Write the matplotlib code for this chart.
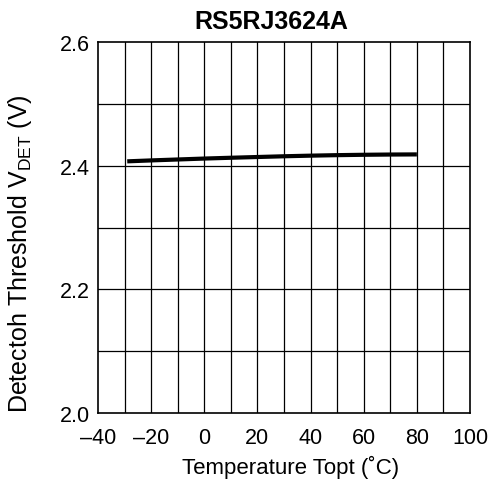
import matplotlib
matplotlib.use("Agg")
import matplotlib.pyplot as plt
import numpy as np

temps = [-29, -20, -10, 0, 10, 20, 30, 40, 50, 60, 70, 80]
vdet = [2.4070, 2.4085, 2.4100, 2.4115, 2.4128, 2.4140, 2.4152, 2.4162, 2.4170, 2.4176, 2.4180, 2.4182]
xticks = [-40, -20, 0, 20, 40, 60, 80, 100]
xtick_labels = ["\u201340", "\u201320", "0", "20", "40", "60", "80", "100"]
yticks = [2.0, 2.2, 2.4, 2.6]
ytick_labels = ["2.0", "2.2", "2.4", "2.6"]

plt.rcParams['font.family'] = ['Liberation Sans', 'DejaVu Sans']
plt.rcParams['mathtext.fontset'] = 'custom'
plt.rcParams['mathtext.rm'] = 'Liberation Sans'

W, H = 490, 485
fig = plt.figure(figsize=(W / 100, H / 100), dpi=100)
ax = fig.add_axes([98 / W, 71 / H, 372 / W, 371 / H])

ax.set_xlim(-40, 100)
ax.set_ylim(2.0, 2.6)
for x in np.arange(-30, 100, 10):
    ax.axvline(x, color='black', lw=0.9, zorder=1)
for y in np.arange(2.1, 2.59, 0.1):
    ax.axhline(y, color='black', lw=0.9, zorder=1)

ax.plot(temps, vdet, color='black', lw=3.0, zorder=3, solid_capstyle='butt')

ax.set_xticks(xticks)
ax.set_xticklabels(xtick_labels)
ax.set_yticks(yticks)
ax.set_yticklabels(ytick_labels)
ax.tick_params(length=0, labelsize=15.5)
ax.tick_params(axis='x', pad=10)
ax.tick_params(axis='y', pad=6)
for s in ax.spines.values():
    s.set_linewidth(1.2)

ax.set_xlabel("Temperature Topt (\u02daC)", fontsize=16)
ax.xaxis.set_label_coords((291 - 98) / 372, (414 - 456) / 371)
ax.set_ylabel("Detectoh Threshold V$_{\\mathrm{DET}}$ (V)", fontsize=18)
ax.yaxis.set_label_coords((34 - 98) / 372, (414 - 254) / 371)
fig.text(271 / W, 1 - 22 / H, "RS5RJ3624A", fontsize=18, fontweight='bold',
         ha='center', va='center')

fig.savefig("out.png", dpi=100)
